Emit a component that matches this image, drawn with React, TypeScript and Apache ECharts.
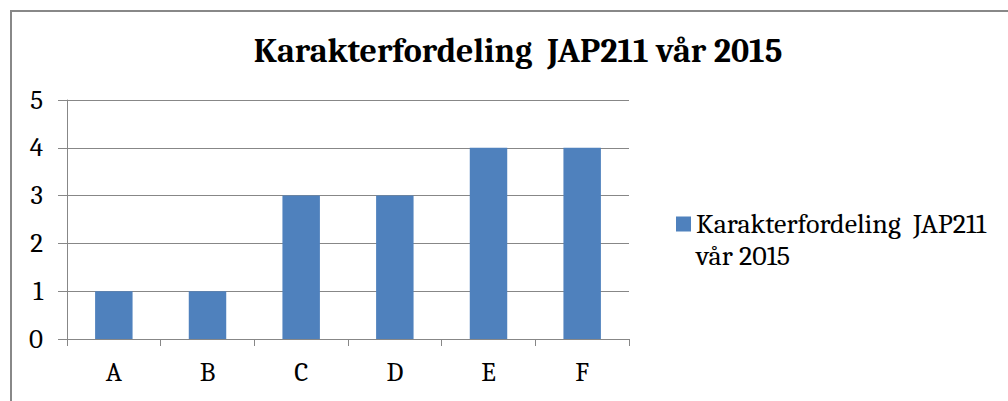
import React, { useEffect, useRef } from "react";
import * as echarts from "echarts";

const categories = ["A", "B", "C", "D", "E", "F"];
const values = [1, 1, 3, 3, 4, 4];
const seriesName = "Karakterfordeling  JAP211 vår 2015";
const titleText = "Karakterfordeling  JAP211 vår 2015";
const legendLine1 = "Karakterfordeling  JAP211";
const legendLine2 = "vår 2015";

export default function App() {
  const ref = useRef<HTMLDivElement>(null);
  useEffect(() => {
    document.body.style.margin = "0";
    const chart = echarts.init(ref.current!, null, { renderer: "svg" });
    const font = "Cambria, 'DejaVu Serif', serif";
    chart.setOption({
      animation: false,
      backgroundColor: "#ffffff",
      title: {
        text: titleText,
        left: 513,
        top: 29,
        textAlign: "center",
        textStyle: { fontFamily: font, fontWeight: "bold", fontSize: 34, color: "#000" },
      },
      legend: {
        left: 671,
        top: 203,
        orient: "vertical",
        icon: "path://M0,0L15,0L15,15L0,15Z M0,46.9L0.05,46.9L0.05,47L0,47Z",
        itemWidth: 15,
        itemHeight: 47,
        itemGap: 6,
        formatter: () => legendLine1 + "\n" + legendLine2,
        textStyle: {
          fontFamily: font,
          fontSize: 28,
          color: "#000",
          lineHeight: 32,
        },
      },
      grid: { left: 67, right: 379, top: 100, bottom: 62 },
      xAxis: {
        type: "category",
        data: categories,
        axisLine: { lineStyle: { color: "#878787", width: 1 } },
        axisTick: { show: true, length: 7, alignWithLabel: false, lineStyle: { color: "#878787" } },
        axisLabel: { fontFamily: font, fontSize: 27, color: "#000", margin: 20 },
      },
      yAxis: {
        type: "value",
        min: 0,
        max: 5,
        interval: 1,
        axisLine: { show: true, lineStyle: { color: "#878787", width: 1 } },
        axisTick: { show: true, length: 9, lineStyle: { color: "#878787" } },
        splitLine: { show: true, lineStyle: { color: "#878787", width: 1 } },
        axisLabel: { fontFamily: font, fontSize: 27, color: "#000", margin: 24 },
      },
      series: [
        {
          name: seriesName,
          type: "bar",
          data: values,
          barWidth: "40%",
          itemStyle: { color: "#4F81BD" },
        },
      ],
      graphic: [
        {
          type: "rect",
          shape: { x: 11, y: 11, width: 1200, height: 600 },
          style: { fill: "none", stroke: "#888888", lineWidth: 2 },
          silent: true,
        },
      ],
    });
    return () => chart.dispose();
  }, []);
  return (
    <div
      ref={ref}
      style={{ position: "absolute", left: 0, top: 0, width: 1008, height: 401 }}
    />
  );
}
